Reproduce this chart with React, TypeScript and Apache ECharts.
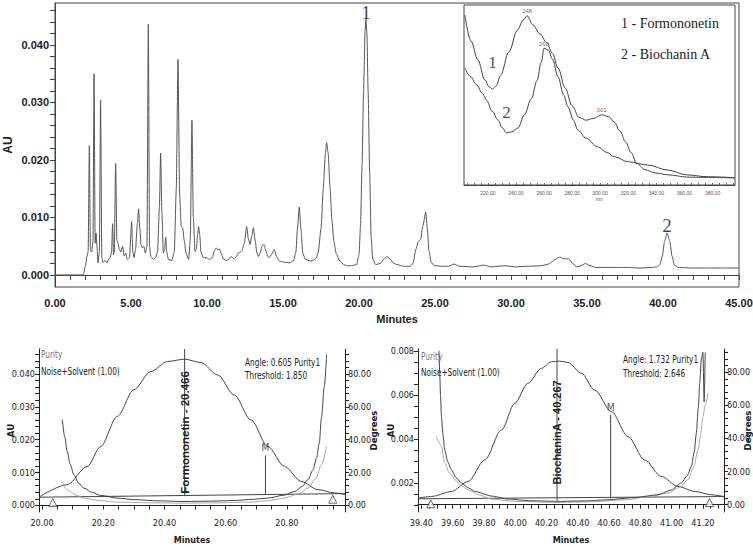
import React, { useEffect, useRef } from "react";
import * as echarts from "echarts";

// ---------- Chromatogram (full run) ----------
const chromTime = [
  0, 1.86, 2.0, 2.1, 2.18, 2.26, 2.33, 2.42, 2.5, 2.57, 2.64, 2.7, 2.76, 2.83, 2.92, 3.0, 3.08, 3.15, 3.3, 3.4,
  3.55, 3.62, 3.72, 3.79, 3.85, 3.9, 3.99, 4.07, 4.15, 4.23, 4.33, 4.45, 4.55, 4.65, 4.76, 4.9, 5.04, 5.12, 5.2,
  5.3, 5.42, 5.5, 5.58, 5.66, 5.75, 5.85, 5.94, 6.05, 6.14, 6.22, 6.3, 6.47, 6.6, 6.75, 6.87, 6.95, 7.03, 7.13,
  7.22, 7.28, 7.35, 7.46, 7.68, 7.85, 7.98, 8.09, 8.2, 8.3, 8.4, 8.5, 8.62, 8.79, 8.9, 9.01, 9.1, 9.21, 9.3, 9.38,
  9.45, 9.52, 9.6, 9.75, 9.95, 10.15, 10.35, 10.5, 10.6, 10.7, 10.82, 10.95, 11.07, 11.29, 11.45, 11.58, 11.7,
  11.8, 11.95, 12.06, 12.2, 12.3, 12.45, 12.61, 12.73, 12.83, 12.95, 13.05, 13.17, 13.28, 13.38, 13.5, 13.62,
  13.75, 13.88, 14.0, 14.1, 14.25, 14.43, 14.58, 14.76, 15.1, 15.46, 15.7, 15.85, 15.95, 16.07, 16.18, 16.3,
  16.45, 16.78, 17.05, 17.2, 17.32, 17.5, 17.65, 17.78, 17.87, 17.97, 18.09, 18.22, 18.35, 18.5, 18.75, 19.0,
  19.19, 19.5, 19.85, 20.0, 20.1, 20.2, 20.3, 20.4, 20.46, 20.52, 20.6, 20.7, 20.8, 20.9, 21.1, 21.4, 21.65,
  21.86, 22.05, 22.3, 22.48, 23.0, 23.36, 23.55, 23.75, 23.9, 24.05, 24.2, 24.39, 24.5, 24.6, 24.75, 24.95, 25.5,
  25.9, 26.25, 26.6, 27.5, 28.2, 28.7, 29.6, 30.3, 31.0, 32.0, 32.5, 32.9, 33.2, 33.5, 33.8, 34.05, 34.35, 34.6,
  34.9, 35.2, 35.6, 36.5, 37.5, 38.5, 39.3, 39.6, 39.8, 39.95, 40.1, 40.27, 40.45, 40.6, 40.75, 41.0, 42.0, 43.0,
  44.0, 45.0,
];
const chromAU = [
  0, 0, 0.0015, 0.0032, 0.004, 0.0225, 0.0042, 0.004, 0.006, 0.035, 0.0055, 0.0073, 0.005, 0.0021, 0.004, 0.0304,
  0.003, 0.0022, 0.0025, 0.0021, 0.0028, 0.003, 0.004, 0.0089, 0.0035, 0.004, 0.0194, 0.006, 0.0055, 0.0045,
  0.004, 0.005, 0.0033, 0.0038, 0.0027, 0.003, 0.0093, 0.004, 0.003, 0.0045, 0.009, 0.0115, 0.008, 0.0052,
  0.0047, 0.005, 0.0038, 0.005, 0.0436, 0.005, 0.0032, 0.0027, 0.003, 0.004, 0.012, 0.0212, 0.011, 0.0038,
  0.0045, 0.0066, 0.004, 0.0027, 0.0025, 0.004, 0.015, 0.0375, 0.014, 0.0084, 0.0082, 0.006, 0.0038, 0.0027,
  0.006, 0.0269, 0.01, 0.0041, 0.0045, 0.007, 0.0084, 0.007, 0.004, 0.003, 0.003, 0.0027, 0.003, 0.0043, 0.0047,
  0.0044, 0.0045, 0.0036, 0.0028, 0.0025, 0.0028, 0.0032, 0.003, 0.0028, 0.0033, 0.0038, 0.004, 0.0042, 0.0055,
  0.0084, 0.0062, 0.0053, 0.0068, 0.0082, 0.006, 0.0038, 0.0032, 0.0038, 0.005, 0.0053, 0.0042, 0.0032, 0.003,
  0.0036, 0.0044, 0.0032, 0.0024, 0.0022, 0.0021, 0.0025, 0.004, 0.008, 0.0118, 0.008, 0.0038, 0.0028, 0.0024,
  0.0026, 0.003, 0.004, 0.008, 0.015, 0.021, 0.023, 0.0212, 0.0154, 0.0095, 0.0058, 0.0037, 0.0024, 0.0018,
  0.0016, 0.0016, 0.0018, 0.0035, 0.0085, 0.019, 0.032, 0.0425, 0.0445, 0.042, 0.032, 0.018, 0.0065, 0.0028,
  0.0018, 0.002, 0.0028, 0.0032, 0.0027, 0.002, 0.0018, 0.0015, 0.0015, 0.002, 0.0045, 0.0058, 0.0062, 0.0085,
  0.0109, 0.008, 0.0042, 0.0022, 0.0016, 0.0015, 0.0015, 0.0019, 0.0015, 0.0014, 0.0017, 0.0014, 0.0016, 0.0014,
  0.0015, 0.0016, 0.0019, 0.0027, 0.0031, 0.0028, 0.0028, 0.002, 0.0014, 0.0016, 0.002, 0.0016, 0.0013, 0.0013,
  0.0013, 0.0012, 0.0013, 0.0014, 0.0018, 0.0032, 0.0058, 0.0073, 0.0058, 0.0032, 0.0017, 0.0013, 0.0012, 0.0012,
  0.0012, 0.0012,
];
const peakMarks = [
  { name: "1", t: 20.46 },
  { name: "2", t: 40.27 },
];
const mainYLabels = [0, 0.01, 0.02, 0.03, 0.04];

// ---------- UV spectra (inset) ----------
const specNm1 = [
  203.6, 208, 212.9, 217.9, 221, 223.3, 226, 229, 235, 241, 245, 248, 252, 257, 262, 266, 270, 275, 280, 285, 290,
  295, 301, 306, 310, 314, 318, 322, 326, 332, 339, 349, 362, 378, 395.7,
];
const specAbs1 = [
  0.944, 0.8, 0.694, 0.583, 0.545, 0.533, 0.55, 0.61, 0.74, 0.86, 0.915, 0.94, 0.89, 0.84, 0.79, 0.73, 0.65, 0.54,
  0.44, 0.375, 0.36, 0.37, 0.39, 0.38, 0.35, 0.3, 0.24, 0.18, 0.12, 0.085, 0.067, 0.056, 0.044, 0.042, 0.039,
];
const specNm2 = [
  203.6, 208, 212, 216, 219, 223, 227.3, 230, 233.3, 237, 241.5, 246, 251, 255, 258, 260, 263, 266, 270, 274, 277,
  281, 284, 290, 298, 305, 310, 320, 334, 348, 362, 376, 395.7,
];
const specAbs2 = [
  0.65, 0.6, 0.556, 0.51, 0.472, 0.41, 0.361, 0.32, 0.29, 0.295, 0.317, 0.39, 0.48, 0.58, 0.68, 0.76, 0.75, 0.7,
  0.6, 0.5, 0.435, 0.36, 0.306, 0.26, 0.213, 0.18, 0.157, 0.129, 0.111, 0.083, 0.056, 0.046, 0.041,
];
const specPeaks = [
  { curve: 1, nm: 248 },
  { curve: 2, nm: 260 },
  { curve: 1, nm: 301 },
];
const specCurveNames = [
  { name: "1", curve: 1, nm: 223.3 },
  { name: "2", curve: 2, nm: 233.3 },
];
const specTickLabels = [220, 240, 260, 280, 300, 320, 340, 360, 380];

// ---------- Peak purity: Formononetin ----------
const formTime = [
  19.99, 20.082, 20.148, 20.191, 20.246, 20.3, 20.355, 20.41, 20.466, 20.519, 20.574, 20.628, 20.683, 20.738,
  20.792, 20.847, 20.902, 20.956, 20.99,
];
const formAU = [
  0.0025, 0.0063, 0.0119, 0.0179, 0.0271, 0.0352, 0.0407, 0.0438, 0.0445, 0.0435, 0.0397, 0.0336, 0.026, 0.0179,
  0.0119, 0.0073, 0.0048, 0.0038, 0.0033,
];
const formAngleTime = [
  20.066, 20.074, 20.082, 20.092, 20.104, 20.12, 20.137, 20.165, 20.191, 20.25, 20.3, 20.38, 20.464, 20.55, 20.628,
  20.69, 20.738, 20.79, 20.826, 20.85, 20.869, 20.885, 20.897, 20.906, 20.913, 20.922, 20.93,
];
const formAngleDeg = [
  52.3, 42, 32.9, 25, 18.7, 13.5, 10.5, 7.8, 6.1, 4.4, 3.5, 2.8, 2.4, 2.6, 3.0, 3.7, 4.5, 6.2, 8.5, 11.5, 15.7,
  21.5, 28.8, 38, 53.2, 72, 91.9,
];
const formThreshTime = [
  20.066, 20.082, 20.11, 20.137, 20.19, 20.246, 20.35, 20.464, 20.57, 20.683, 20.74, 20.792, 20.84, 20.869, 20.895,
  20.913, 20.93,
];
const formThreshDeg = [14.6, 9.6, 6.3, 4.5, 2.9, 2.0, 1.6, 1.4, 1.6, 2.0, 2.9, 4.5, 7.2, 10.5, 16.5, 24.8, 36];
const formBaseTime = [19.99, 20.99];
const formBaseAU = [0.0025, 0.0036];
const formApexTime = 20.466;
const formApexAU = [0.0028, 0.0476];
const formMTime = 20.73;
const formMAU = [0.0034, 0.0152];
const formLimits = [
  [20.035, 0.0009],
  [20.95, 0.0019],
];

// ---------- Peak purity: Biochanin A ----------
const bioTime = [
  39.378, 39.464, 39.592, 39.698, 39.805, 39.912, 39.997, 40.08, 40.167, 40.231, 40.284, 40.337, 40.423, 40.508,
  40.615, 40.721, 40.828, 40.934, 41.041, 41.148, 41.254, 41.335,
];
const bioAU = [
  0.00132, 0.00139, 0.00162, 0.00207, 0.00305, 0.00441, 0.00562, 0.00652, 0.0072, 0.0075, 0.00753, 0.00747,
  0.00698, 0.00622, 0.00524, 0.00411, 0.00305, 0.0023, 0.00185, 0.00162, 0.00147, 0.00139,
];
const bioAngleTime = [
  39.512, 39.517, 39.522, 39.528, 39.538, 39.549, 39.568, 39.592, 39.62, 39.656, 39.7, 39.741, 39.85, 39.954, 40.1,
  40.273, 40.45, 40.593, 40.76, 40.913, 41.0, 41.062, 41.1, 41.126, 41.145, 41.158, 41.17, 41.18, 41.19, 41.2,
  41.208, 41.215,
];
const bioAngleDeg = [
  93, 79.3, 66, 53.2, 42, 33.1, 26, 21.1, 16.5, 13.1, 10.2, 8.0, 5.2, 3.4, 2.4, 2.0, 2.3, 3.0, 4.3, 6.0, 9.0, 13.1,
  17.5, 23.1, 32, 43.2, 58, 73.3, 88, 92, 62, 92,
];
const bioThreshTime = [
  39.496, 39.51, 39.528, 39.549, 39.58, 39.613, 39.65, 39.698, 39.77, 39.847, 40.0, 40.273, 40.5, 40.7, 40.85,
  40.977, 41.05, 41.105, 41.14, 41.169, 41.185, 41.2, 41.215, 41.233,
];
const bioThreshDeg = [
  41.1, 38, 35.1, 25.1, 19, 15.1, 11.8, 9.0, 5.8, 3.4, 2.0, 1.4, 1.8, 3.0, 4.8, 7.0, 10.5, 15.1, 22.5, 33.1, 42,
  53.2, 60, 67.3,
];
const bioBaseTime = [39.378, 41.335];
const bioBaseAU = [0.00129, 0.00139];
const bioApexTime = 40.267;
const bioApexAU = [0.0012, 0.00808];
const bioMTime = 40.61;
const bioMAU = [0.0013, 0.0051];
const bioLimits = [
  [39.46, 0.00106],
  [41.243, 0.00112],
];

const purityAULabelsForm = [0, 0.01, 0.02, 0.03, 0.04];
const purityAULabelsBio = [0.002, 0.004, 0.006, 0.008];
const degreeLabels = [0, 20, 40, 60, 80];
const formTimeLabels = [20.0, 20.2, 20.4, 20.6, 20.8];
const bioTimeLabels = [39.4, 39.6, 39.8, 40.0, 40.2, 40.4, 40.6, 40.8, 41.0, 41.2];

const FONT = "'Liberation Sans', Arial, sans-serif";
const NARROW = "'Liberation Sans Narrow', 'Arial Narrow', 'DejaVu Sans Condensed', 'Liberation Sans', sans-serif";
const SERIF = "'Liberation Serif', 'Times New Roman', serif";
const INK = "#222";
const LINE = "#555";

const pairs = (xs: number[], ys: number[]) => xs.map((x, i) => [x, ys[i]]);
const steps = (start: number, end: number, step: number) => {
  const out: number[] = [];
  const n = Math.round((end - start) / step);
  for (let i = 0; i <= n; i++) out.push(Number((start + i * step).toFixed(6)));
  return out;
};

const lineSeries = (xi: number, yi: number, data: number[][], color = LINE, width = 1, smooth: any = 0.3) => ({
  type: "line",
  xAxisIndex: xi,
  yAxisIndex: yi,
  data,
  showSymbol: false,
  smooth,
  smoothMonotone: "x",
  lineStyle: { color, width },
  silent: true,
});

const labelSeries = (xi: number, yi: number, data: any[], label: any) => ({
  type: "scatter",
  xAxisIndex: xi,
  yAxisIndex: yi,
  data,
  symbolSize: 1,
  itemStyle: { color: "rgba(0,0,0,0)" },
  label: { show: true, position: "top", textBorderWidth: 0, ...label },
  silent: true,
});

const smallAxisX = (gridIndex: number, min: number, max: number, labels: number[], ticks: number[]) => ({
  type: "value",
  gridIndex,
  min,
  max,
  axisLine: { lineStyle: { color: INK } },
  axisTick: { customValues: ticks, length: 4, lineStyle: { color: INK } },
  axisLabel: {
    customValues: labels,
    formatter: (v: number) => v.toFixed(2),
    fontSize: 9,
    fontFamily: NARROW,
    color: INK,
    margin: 6,
  },
  splitLine: { show: false },
  name: "Minutes",
  nameLocation: "middle",
  nameGap: 23,
  nameMoveOverlap: false,
  nameTextStyle: { fontSize: 9, fontFamily: NARROW, fontWeight: "bold", color: INK },
});

const smallAxisY = (
  gridIndex: number,
  position: string,
  min: number,
  max: number,
  labels: number[],
  ticks: number[],
  digits: number,
  name: string,
  nameGap: number
) => ({
  type: "value",
  gridIndex,
  position,
  min,
  max,
  axisLine: { show: true, lineStyle: { color: INK } },
  axisTick: { show: true, customValues: ticks, length: 4, lineStyle: { color: INK } },
  axisLabel: {
    customValues: labels,
    formatter: (v: number) => v.toFixed(digits),
    fontSize: 9,
    fontFamily: NARROW,
    color: INK,
    margin: position === "left" ? 4 : 3,
  },
  splitLine: { show: false },
  name,
  nameLocation: "middle",
  nameGap,
  nameMoveOverlap: false,
  nameTextStyle: { fontSize: 9.5, fontFamily: NARROW, fontWeight: "bold", color: INK },
});

export default function App() {
  const ref = useRef<HTMLDivElement>(null);

  useEffect(() => {
    if (!ref.current) return;
    const chart = echarts.init(ref.current, undefined, { renderer: "svg" });

    const spectrum = (curve: number) =>
      curve === 1 ? { nm: specNm1, abs: specAbs1 } : { nm: specNm2, abs: specAbs2 };
    const specValue = (curve: number, nm: number) => {
      const s = spectrum(curve);
      return s.abs[s.nm.indexOf(nm)];
    };

    const option: any = {
      animation: false,
      textStyle: { fontFamily: FONT },
      grid: [
        {
          left: 55,
          top: 3,
          width: 684,
          height: 284,
          show: true,
          borderColor: "#444",
          borderWidth: 1,
          backgroundColor: "transparent",
          outerBoundsMode: "none",
        },
        {
          left: 464,
          top: 5,
          width: 271,
          height: 180,
          show: true,
          borderColor: "#444",
          borderWidth: 1,
          backgroundColor: "#fff",
          outerBoundsMode: "none",
        },
        { left: 39, top: 349, width: 306, height: 163, outerBoundsMode: "none" },
        { left: 418, top: 349, width: 306, height: 163, outerBoundsMode: "none" },
      ],
      xAxis: [
        {
          type: "value",
          gridIndex: 0,
          min: 0,
          max: 45,
          interval: 5,
          axisLine: { lineStyle: { color: "#444" } },
          axisTick: { length: 5, lineStyle: { color: "#444" } },
          minorTick: { show: true, splitNumber: 5, length: 5, lineStyle: { color: "#444" } },
          splitLine: { show: false },
          axisLabel: {
            formatter: (v: number) => v.toFixed(2),
            fontWeight: "bold",
            fontSize: 11,
            color: INK,
            margin: 10,
          },
          name: "Minutes",
          nameLocation: "middle",
          nameGap: 26,
          nameMoveOverlap: false,
          nameTextStyle: { fontWeight: "bold", fontSize: 11, color: INK },
        },
        {
          type: "value",
          gridIndex: 1,
          min: 203,
          max: 396,
          axisLine: { lineStyle: { color: "#444" } },
          axisTick: { customValues: steps(205, 395, 5), inside: true, length: 2, lineStyle: { color: "#666" } },
          axisLabel: {
            customValues: specTickLabels,
            formatter: (v: number) => v.toFixed(2),
            fontSize: 5,
            color: "#555",
            margin: 5,
          },
          splitLine: { show: false },
          name: "nm",
          nameLocation: "middle",
          nameGap: 11,
          nameMoveOverlap: false,
          nameTextStyle: { fontSize: 5, color: "#555" },
        },
        smallAxisX(2, 19.99, 20.99, formTimeLabels, steps(20.0, 20.95, 0.05)),
        smallAxisX(3, 39.378, 41.335, bioTimeLabels, steps(39.4, 41.3, 0.05)),
      ],
      yAxis: [
        {
          type: "value",
          gridIndex: 0,
          min: -0.0021,
          max: 0.0473,
          axisLine: { show: true, lineStyle: { color: "#444" } },
          axisTick: { show: true, customValues: steps(0, 0.046, 0.002), length: 5, lineStyle: { color: "#444" } },
          axisLabel: {
            customValues: mainYLabels,
            formatter: (v: number) => v.toFixed(3),
            fontWeight: "bold",
            fontSize: 11,
            color: INK,
            margin: 6,
          },
          splitLine: { show: false },
          name: "AU",
          nameLocation: "middle",
          nameGap: 41,
          nameMoveOverlap: false,
          nameTextStyle: { fontWeight: "bold", fontSize: 12, color: INK },
        },
        { type: "value", gridIndex: 1, min: 0, max: 1, show: false },
        smallAxisY(2, "left", -0.002, 0.0476, purityAULabelsForm, steps(0, 0.046, 0.002), 3, "AU", 24),
        smallAxisY(2, "right", -4, 95.2, degreeLabels, steps(0, 92, 4), 2, "Degrees", 23),
        smallAxisY(3, "left", 0.00069, 0.00808, purityAULabelsBio, steps(0.001, 0.008, 0.0005), 3, "AU", 23),
        smallAxisY(3, "right", -4.4, 94.0, degreeLabels, steps(0, 92, 4), 2, "Degrees", 18),
      ],
      series: [
        // full chromatogram
        lineSeries(0, 0, pairs(chromTime, chromAU), LINE, 1, 0.2),
        labelSeries(
          0,
          0,
          peakMarks.map((p) => ({
            value: [p.t, chromAU[chromTime.indexOf(p.t)]],
            label: { formatter: p.name, color: "#111" },
          })),
          { distance: 0, offset: [0, 3], fontFamily: SERIF, fontSize: 19, color: "#111" }
        ),
        // UV spectra
        lineSeries(1, 1, pairs(specNm1, specAbs1), "#444", 1, 0.35),
        lineSeries(1, 1, pairs(specNm2, specAbs2), "#444", 1, 0.35),
        labelSeries(
          1,
          1,
          specPeaks.map((p) => ({
            value: [p.nm, specValue(p.curve, p.nm)],
            label: { formatter: String(p.nm), color: "#444" },
          })),
          { distance: 1, fontSize: 6, color: "#444" }
        ),
        labelSeries(
          1,
          1,
          specCurveNames.map((p) => ({
            value: [p.nm, specValue(p.curve, p.nm)],
            label: { formatter: p.name, distance: p.curve === 1 ? 18 : 11, color: "#1a1a1a" },
          })),
          { fontFamily: SERIF, fontSize: 17, color: "#1a1a1a" }
        ),
        // Formononetin purity
        lineSeries(2, 2, pairs(formTime, formAU), "#444", 1, 0.3),
        lineSeries(2, 2, pairs(formBaseTime, formBaseAU), "#444", 1, false),
        lineSeries(2, 3, pairs(formThreshTime, formThreshDeg), "#a8a8a8", 1, 0.3),
        lineSeries(2, 3, pairs(formAngleTime, formAngleDeg), "#444", 1, 0.3),
        lineSeries(2, 2, formApexAU.map((v) => [formApexTime, v]), "#444", 1, false),
        lineSeries(2, 2, formMAU.map((v) => [formMTime, v]), "#444", 1, false),
        labelSeries(2, 2, [[formMTime, formMAU[1]]], {
          formatter: "M",
          distance: 2,
          fontSize: 10,
          fontFamily: NARROW,
          color: "#222",
        }),
        {
          type: "scatter",
          xAxisIndex: 2,
          yAxisIndex: 2,
          data: formLimits,
          symbol: "triangle",
          symbolSize: [8, 8],
          itemStyle: { color: "#fff", borderColor: "#444", borderWidth: 1 },
          silent: true,
        },
        // Biochanin A purity
        lineSeries(3, 4, pairs(bioTime, bioAU), "#444", 1, 0.3),
        lineSeries(3, 4, pairs(bioBaseTime, bioBaseAU), "#444", 1, false),
        lineSeries(3, 5, pairs(bioThreshTime, bioThreshDeg), "#a8a8a8", 1, 0.3),
        lineSeries(3, 5, pairs(bioAngleTime, bioAngleDeg), "#444", 1, 0.2),
        lineSeries(3, 4, bioApexAU.map((v) => [bioApexTime, v]), "#444", 1, false),
        lineSeries(3, 4, bioMAU.map((v) => [bioMTime, v]), "#444", 1, false),
        labelSeries(3, 4, [[bioMTime, bioMAU[1]]], {
          formatter: "M",
          distance: 2,
          fontSize: 10,
          fontFamily: NARROW,
          color: "#222",
        }),
        {
          type: "scatter",
          xAxisIndex: 3,
          yAxisIndex: 4,
          data: bioLimits,
          symbol: "triangle",
          symbolSize: [8, 8],
          itemStyle: { color: "#fff", borderColor: "#444", borderWidth: 1 },
          silent: true,
        },
      ],
    };

    chart.setOption(option);

    const px = (xi: number, yi: number, x: number, y: number) =>
      chart.convertToPixel({ xAxisIndex: xi, yAxisIndex: yi } as any, [x, y]) as number[];
    const formText = px(2, 2, formApexTime, 0.0222);
    const bioText = px(3, 4, bioApexTime, 0.0043);

    const note = (text: string, x: number, y: number, color = INK, size = 10) => ({
      type: "text",
      x,
      y,
      scaleX: 0.82,
      style: { text, fill: color, fontSize: size, fontFamily: NARROW, verticalAlign: "middle" },
      silent: true,
    });
    const legend = (text: string, x: number, y: number) => ({
      type: "text",
      x,
      y,
      style: { text, fill: "#222", fontSize: 14, fontFamily: SERIF, verticalAlign: "middle" },
      silent: true,
    });
    const vertical = (text: string, x: number, y: number, size: number) => ({
      type: "text",
      x,
      y,
      rotation: Math.PI / 2,
      z: 10,
      style: {
        text,
        fill: "#222",
        fontSize: size,
        fontWeight: "bold",
        fontFamily: FONT,
        align: "center",
        verticalAlign: "middle",
      },
      silent: true,
    });

    chart.setOption({
      graphic: [
        legend("1 - Formononetin", 621, 23),
        legend("2 - Biochanin A", 621, 54),
        note("Purity", 41, 355, "#777"),
        note("Noise+Solvent (1.00)", 41, 372),
        note("Angle: 0.605 Purity1", 245, 363),
        note("Threshold: 1.850", 245, 376),
        note("Purity", 421, 357, "#777"),
        note("Noise+Solvent (1.00)", 421, 373),
        note("Angle: 1.732 Purity1", 623, 360),
        note("Threshold: 2.646", 623, 374),
        vertical("Formononetin - 20.466", formText[0], formText[1], 11.5),
        vertical("BiochaninA - 40.267", bioText[0], bioText[1], 11),
      ],
    });

    return () => chart.dispose();
  }, []);

  return <div ref={ref} style={{ width: 753, height: 547, position: "absolute", left: 0, top: 0 }} />;
}
